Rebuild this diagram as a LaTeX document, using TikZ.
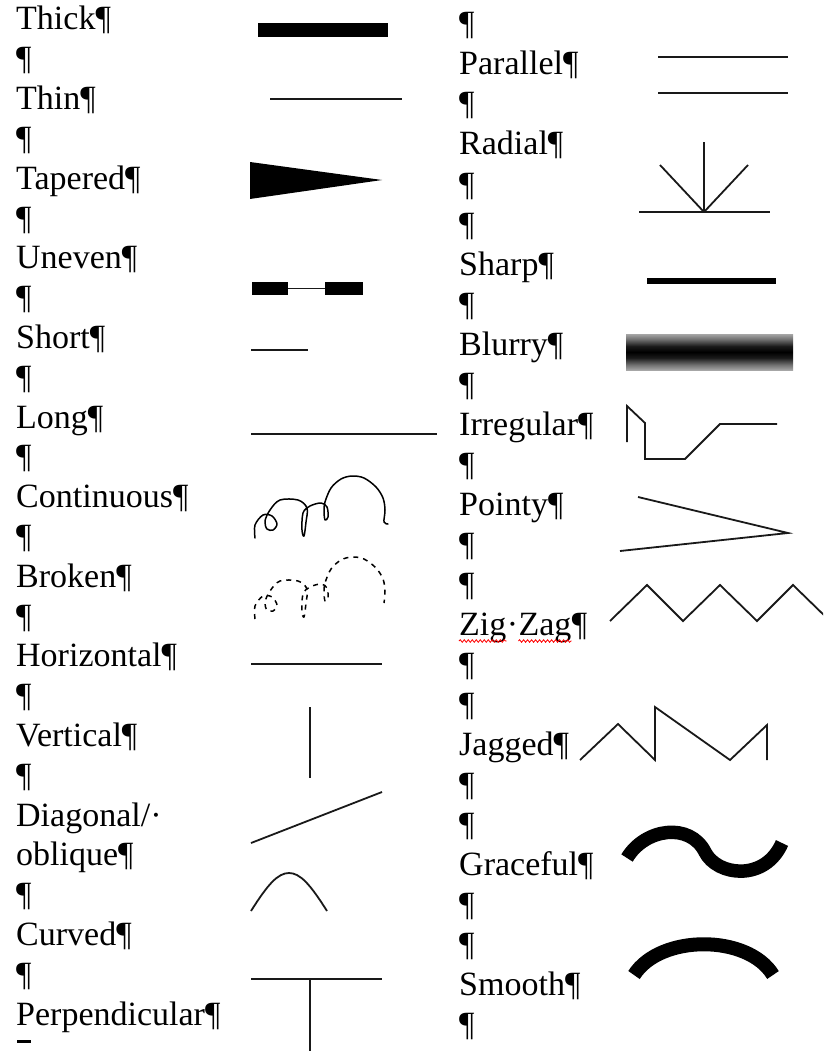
\documentclass[tikz,border=0pt]{standalone}
\usepackage{fontspec}
\setmainfont{Liberation Serif}
\usetikzlibrary{decorations.pathmorphing}
\pgfdeclareverticalshading{blurshade}{100bp}{color(0bp)=(white); color(18bp)=(black!15); color(32bp)=(black!55); color(42bp)=(black!90); color(50bp)=(black); color(58bp)=(black!90); color(68bp)=(black!55); color(82bp)=(black!15); color(100bp)=(white)}
\begin{document}
\begin{tikzpicture}[x=1pt,y=-1pt,
  lbl/.style={anchor=base west, inner sep=0pt, font=\fontsize{34}{40}\selectfont},
  thinln/.style={line width=1.8pt, black!90},
  squig/.style={line width=1.5pt, black, line join=round, line cap=round},
  heavy/.style={line width=13.5pt, black}]
\useasboundingbox (0,0) rectangle (823,1051);
\clip (0,0) rectangle (823,1051);
% ---------------- left column labels
\foreach \i/\t in {0/Thick¶,1/¶,2/Thin¶,3/¶,4/Tapered¶,5/¶,6/Uneven¶,7/¶,8/Short¶,9/¶,10/Long¶,11/¶,12/Continuous¶,13/¶,14/Broken¶,15/¶,16/Horizontal¶,17/¶,18/Vertical¶,19/¶,21/oblique¶,22/¶,23/Curved¶,24/¶,25/Perpendicular¶}
  \node[lbl] (L\i) at (16,{30+39.8*\i}) {\t};
\node[lbl] (L20) at (16,{30+39.8*20}) {Diagonal/·};
% cut-off mark at the bottom edge
\fill (17,1039.5) rectangle (31,1043);
% ---------------- right column labels
\foreach \i/\t in {0/¶,1/Parallel¶,2/¶,3/Radial¶,4/¶,5/¶,6/Sharp¶,7/¶,8/Blurry¶,9/¶,10/Irregular¶,11/¶,12/Pointy¶,13/¶,14/¶,16/¶,17/¶,18/Jagged¶,19/¶,20/¶,21/Graceful¶,22/¶,23/¶,24/Smooth¶,25/¶}
  \node[lbl] (R\i) at (459,{35+40*\i}) {\t};
\node[lbl] (zz1) at (459,{35+40*15}) {Zig};
\node[lbl] (zz2) at (zz1.base east) {·};
\node[lbl] (zz3) at (zz2.base east) {Zag};
\node[lbl] (zz4) at (zz3.base east) {¶};
\draw[red, line width=0.8pt, decorate, decoration={snake, amplitude=1.3pt, segment length=4pt}]
  ([yshift=-6pt]zz1.base west) -- ([yshift=-6pt]zz1.base east);
\draw[red, line width=0.8pt, decorate, decoration={snake, amplitude=1.3pt, segment length=4pt}]
  ([yshift=-6pt]zz3.base west) -- ([yshift=-6pt]zz3.base east);
% ---------------- left column drawings
% Thick
\fill (258,23) rectangle (388,37);
% Thin
\draw[thinln] (270,99) -- (402,99);
% Tapered
\fill (250,162) -- (250,199) -- (382,180) -- cycle;
% Uneven
\fill (252,282) rectangle (288,295);
\fill (325,282) rectangle (363,295);
\draw[thinln] (288,288.5) -- (325,288.5);
% Short
\draw[thinln] (251,350) -- (308,350);
% Long
\draw[thinln] (251,434) -- (437,434);
% Continuous
\draw[squig] plot[smooth, tension=0.55] coordinates {(255,538) (255,525) (263,515) (272,516) (277,524) (273,530) (267,529) (265,521) (270,510) (280,500) (298,500) (307,508) (306,522) (304,536) (302,530) (303,513) (310,506) (321,503) (327,507) (328,517) (325,520) (324,511) (325,502) (331,488) (341,479) (352,476) (364,478) (376,487) (383,498) (385,510) (384,522) (388,524)};
% Broken
\begin{scope}[shift={(0,81)}]
\draw[squig, line cap=butt, dash pattern=on 5pt off 5pt] plot[smooth, tension=0.55] coordinates {(255,538) (255,525) (263,515) (272,516) (277,524) (273,530) (267,529) (265,521) (270,510) (280,500) (298,500) (307,508) (306,522) (304,536) (302,530) (303,513) (310,506) (321,503) (327,507) (328,517) (325,520) (324,511) (325,502) (331,488) (341,479) (352,476) (364,478) (376,487) (383,498) (385,510) (384,522)};
\end{scope}
% Horizontal
\draw[thinln] (251,664) -- (382,664);
% Vertical
\draw[thinln] (310,707) -- (310,778);
% Diagonal
\draw[thinln] (251,843) -- (382,792);
% Curved
\draw[thinln] (251,911) .. controls (268,884) and (278,873) .. (289,873) .. controls (300,873) and (310,884) .. (327,911);
% Perpendicular
\draw[thinln] (251,979) -- (382,979);
\draw[thinln] (310,979) -- (310,1060);
% ---------------- right column drawings
% Parallel
\draw[thinln] (658,57) -- (788,57);
\draw[thinln] (658,93) -- (788,93);
% Radial
\draw[thinln] (639,212) -- (770,212);
\draw[thinln] (704,212) -- (704,142);
\draw[thinln] (704,212) -- (660,165);
\draw[thinln] (704,212) -- (748,165);
% Sharp
\draw[line width=5.5pt] (647,281) -- (776,281);
% Blurry
\shade[shading=blurshade] (626,334) rectangle (793,370);
% Irregular
\draw[thinln] (627,442) -- (627,406) -- (645,423) -- (645,459) -- (685,459) -- (720,424) -- (777,424);
% Pointy
\draw[thinln] (638,497) -- (788,533) -- (620,551);
% Zig-Zag
\draw[thinln] (610,621) -- (647,585) -- (683,621) -- (720,585) -- (757,621) -- (793,585) -- (830,621);
% Jagged
\draw[thinln] (580,760) -- (618,724) -- (655,760) -- (655,707) -- (730,760) -- (767,725) -- (767,760);
% Graceful
\draw[heavy] (627,858) .. controls (645,828) and (690,822) .. (705,852) .. controls (717,876) and (765,882) .. (782,843);
% Smooth
\draw[heavy, line width=14pt] (634,975) .. controls (660,934) and (748,934) .. (773,975);
\end{tikzpicture}
\end{document}
